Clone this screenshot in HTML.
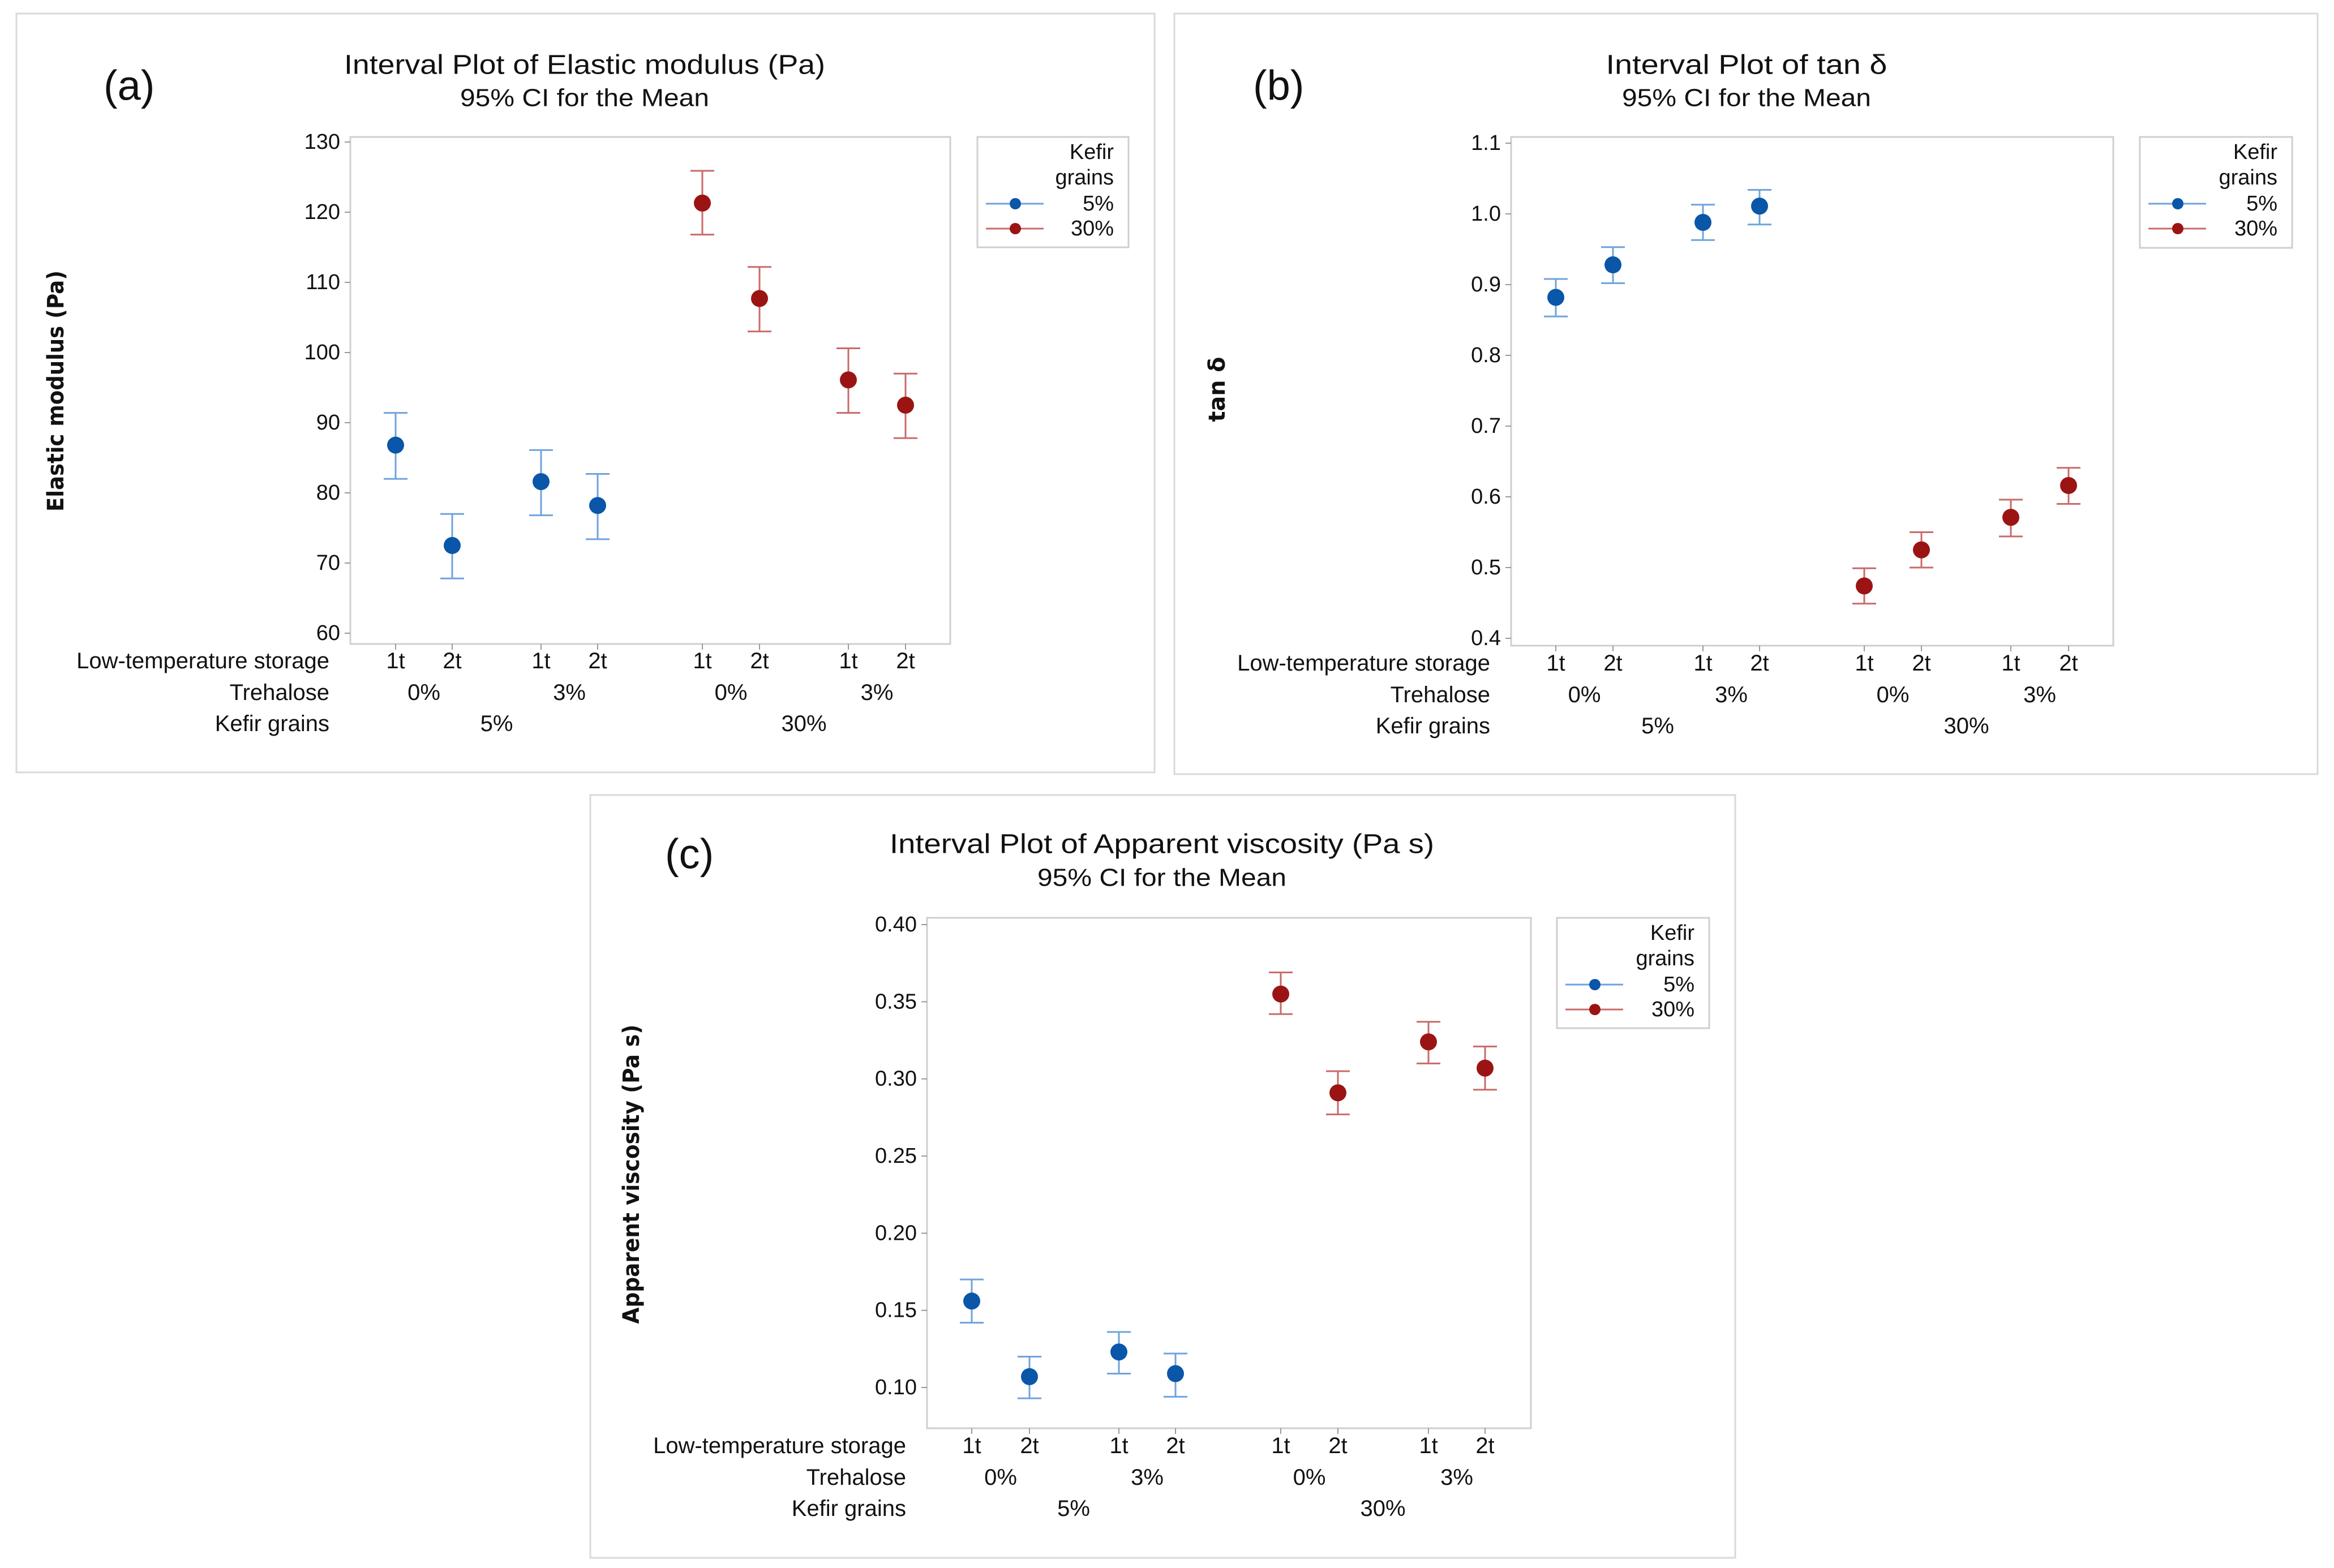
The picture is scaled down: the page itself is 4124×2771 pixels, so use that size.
<!DOCTYPE html>
<html><head><meta charset="utf-8"><style>
html,body{margin:0;padding:0;background:#fff}
svg{display:block}
text{font-family:"Liberation Sans",sans-serif;fill:#111}
</style></head><body>
<svg id="fig" width="4124" height="2771" viewBox="0 0 4124 2771" xmlns="http://www.w3.org/2000/svg"></svg>
<script>
// ---- data ----
const storageLabels = ["1t","2t","1t","2t","1t","2t","1t","2t"];
const trehaloseLabels = ["0%","3%","0%","3%"];
const kefirLabels = ["5%","30%"];
const seriesNames = ["5%","30%"];
// Panel a: Elastic modulus (Pa)
const aMean5 = [86.8, 72.5, 81.6, 78.2];
const aLo5   = [82.0, 67.8, 76.8, 73.4];
const aHi5   = [91.4, 77.0, 86.1, 82.7];
const aMean30 = [121.3, 107.7, 96.1, 92.5];
const aLo30   = [116.8, 103.0, 91.4, 87.8];
const aHi30   = [125.9, 112.2, 100.6, 97.0];
const aTicks = [60,70,80,90,100,110,120,130];
// Panel b: tan delta
const bMean5 = [0.882, 0.928, 0.988, 1.011];
const bLo5   = [0.855, 0.902, 0.963, 0.985];
const bHi5   = [0.908, 0.953, 1.013, 1.034];
const bMean30 = [0.474, 0.525, 0.571, 0.616];
const bLo30   = [0.449, 0.500, 0.544, 0.590];
const bHi30   = [0.499, 0.550, 0.596, 0.641];
const bTicks = [0.4,0.5,0.6,0.7,0.8,0.9,1.0,1.1];
const bTickLabels = ["0.4","0.5","0.6","0.7","0.8","0.9","1.0","1.1"];
// Panel c: Apparent viscosity (Pa s)
const cMean5 = [0.156, 0.107, 0.123, 0.109];
const cLo5   = [0.142, 0.093, 0.109, 0.094];
const cHi5   = [0.170, 0.120, 0.136, 0.122];
const cMean30 = [0.355, 0.291, 0.324, 0.307];
const cLo30   = [0.342, 0.277, 0.310, 0.293];
const cHi30   = [0.369, 0.305, 0.337, 0.321];
const cTicks = [0.10,0.15,0.20,0.25,0.30,0.35,0.40];
const cTickLabels = ["0.10","0.15","0.20","0.25","0.30","0.35","0.40"];

const NS="http://www.w3.org/2000/svg";
const svg=document.getElementById('fig');
function mk(tag,attrs,parent,txt){const e=document.createElementNS(NS,tag);for(const k in attrs)e.setAttribute(k,attrs[k]);if(txt!==undefined)e.textContent=txt;(parent||svg).appendChild(e);return e;}

function panel(cfg){
  const g=mk('g',{});
  
  
  const fr=mk('rect',{x:cfg.border[0],y:cfg.border[1],width:cfg.border[2]-cfg.border[0],height:cfg.border[3]-cfg.border[1],fill:'#fff',stroke:'#d9d9d9','stroke-width':3},g);
  
  
  const lt=mk('text',{x:cfg.letter[0],y:cfg.letter[1],'font-size':74,'dominant-baseline':'central'},g,cfg.letterText);
  
  
  const t1=mk('text',{x:cfg.titleX,y:cfg.titleY,'font-size':48,'text-anchor':'middle','dominant-baseline':'central',textLength:cfg.titleLen,lengthAdjust:'spacingAndGlyphs'},g,cfg.title);
  
  
  const t2=mk('text',{x:cfg.titleX,y:cfg.subY,'font-size':44,'text-anchor':'middle','dominant-baseline':'central',textLength:440,lengthAdjust:'spacingAndGlyphs'},g,'95% CI for the Mean');
  
  
  const [px0,py0,px1,py1]=cfg.plot;
  const pr=mk('rect',{x:px0,y:py0,width:px1-px0,height:py1-py0,fill:'#fff',stroke:'#cfcfcf','stroke-width':3},g);
  
  
  const Y=v=>cfg.yPix0+(v-cfg.yVal0)*(cfg.yPix1-cfg.yPix0)/(cfg.yVal1-cfg.yVal0);
  const X=i=>cfg.xPix0+ (cfg.xOff[i]) ;
  cfg.ticks.forEach((v,i)=>{
    const tk=mk('line',{x1:px0-10,x2:px0,y1:Y(v),y2:Y(v),stroke:'#999','stroke-width':2},g);
    
    
    const tl=mk('text',{x:px0-18,y:Y(v),'font-size':38,'text-anchor':'end','dominant-baseline':'central'},g,cfg.tickLabels[i]);
    
    
  });
  const yt=mk('text',{x:cfg.yTitle[0],y:cfg.yTitle[1],'font-size':40,'font-weight':'bold','text-anchor':'middle','dominant-baseline':'central',transform:`rotate(-90 ${cfg.yTitle[0]} ${cfg.yTitle[1]})`,textLength:cfg.yTitleLen,lengthAdjust:'spacingAndGlyphs',style:'font-family:"DejaVu Sans",sans-serif'},g,cfg.yTitleText);
  
  
  // x ticks & labels
  const xs=[];for(let i=0;i<8;i++)xs.push(X(i));
  storageLabels.forEach((s,i)=>{
    const tk=mk('line',{x1:xs[i],x2:xs[i],y1:py1,y2:py1+10,stroke:'#999','stroke-width':2},g);
    
    
    const tl=mk('text',{x:xs[i],y:cfg.rows[0],'font-size':40,'text-anchor':'middle','dominant-baseline':'central'},g,s);
    
    
  });
  trehaloseLabels.forEach((s,i)=>{
    const tl=mk('text',{x:(xs[2*i]+xs[2*i+1])/2,y:cfg.rows[1],'font-size':40,'text-anchor':'middle','dominant-baseline':'central'},g,s);
    
    
  });
  kefirLabels.forEach((s,i)=>{
    const tl=mk('text',{x:(xs[4*i]+xs[4*i+3])/2,y:cfg.rows[2],'font-size':40,'text-anchor':'middle','dominant-baseline':'central'},g,s);
    
    
  });
  ["Low-temperature storage","Trehalose","Kefir grains"].forEach((s,i)=>{
    const tl=mk('text',{x:cfg.rowRight,y:cfg.rows[i],'font-size':40,'text-anchor':'end','dominant-baseline':'central'},g,s);
    
    
  });
  // series
  const series=[[cfg.m5,cfg.l5,cfg.h5,'#6fa3dc','#0a56a8',0],[cfg.m30,cfg.l30,cfg.h30,'#c96a6a','#9b1414',4]];
  series.forEach(([m,l,h,lc,dc,off])=>{
    m.forEach((v,i)=>{
      const x=xs[i+off];
      const eb=mk('g',{},g);
      
      
      mk('line',{x1:x,x2:x,y1:Y(l[i]),y2:Y(h[i]),stroke:lc,'stroke-width':3},eb);
      mk('line',{x1:x-21,x2:x+21,y1:Y(l[i]),y2:Y(l[i]),stroke:lc,'stroke-width':3},eb);
      mk('line',{x1:x-21,x2:x+21,y1:Y(h[i]),y2:Y(h[i]),stroke:lc,'stroke-width':3},eb);
      const c=mk('ellipse',{cx:x,cy:Y(v),rx:15,ry:15,fill:dc},g);
      
      
    });
  });
  // legend
  const [lx0,ly0,lx1,ly1]=cfg.legend;
  const lg=mk('g',{},g);
  
  
  mk('rect',{x:lx0,y:ly0,width:lx1-lx0,height:ly1-ly0,fill:'#fff',stroke:'#cfcfcf','stroke-width':3},lg);
  mk('text',{x:lx1-26,y:ly0+27,'font-size':38,'text-anchor':'end','dominant-baseline':'central'},lg,'Kefir');
  mk('text',{x:lx1-26,y:ly0+72,'font-size':38,'text-anchor':'end','dominant-baseline':'central'},lg,'grains');
  [['#6fa3dc','#0a56a8',118],['#c96a6a','#9b1414',162]].forEach(([lc,dc,dy],i)=>{
    const le=mk('g',{},lg);
    
    
    mk('line',{x1:lx0+15,x2:lx0+117,y1:ly0+dy,y2:ly0+dy,stroke:lc,'stroke-width':3},le);
    mk('circle',{cx:lx0+67,cy:ly0+dy,r:10,fill:dc},le);
    mk('text',{x:lx1-26,y:ly0+dy,'font-size':38,'text-anchor':'end','dominant-baseline':'central'},le,seriesNames[i]);
  });
}
const offs8=[0,100,257,357,542,643,800,901];
panel({name:'panel-a-elastic-modulus',border:[29,24,2040,1365],letter:[183,151],letterText:'(a)',
  titleX:1033,titleY:115,subY:173,titleLen:850,title:'Interval Plot of Elastic modulus (Pa)',
  plot:[619,242,1679,1138],yVal0:60,yVal1:130,yPix0:1119,yPix1:251,ticks:aTicks,tickLabels:aTicks.map(String),
  yTitle:[99,691],yTitleLen:426,yTitleText:'Elastic modulus (Pa)',
  xPix0:699,xOff:offs8,rows:[1168,1224,1279],rowRight:582,
  m5:aMean5,l5:aLo5,h5:aHi5,m30:aMean30,l30:aLo30,h30:aHi30,legend:[1727,242,1994,437]});
panel({name:'panel-b-tan-delta',border:[2075,24,4095,1368],letter:[2214,151],letterText:'(b)',
  titleX:3086,titleY:115,subY:173,titleLen:497,title:'Interval Plot of tan δ',
  plot:[2670,242,3734,1141],yVal0:0.4,yVal1:1.1,yPix0:1128,yPix1:253,ticks:bTicks,tickLabels:bTickLabels,
  yTitle:[2151,688],yTitleLen:115,yTitleText:'tan δ',
  xPix0:2749,xOff:[0,101,260,360,545,646,804,906],rows:[1172,1228,1283],rowRight:2633,
  m5:bMean5,l5:bLo5,h5:bHi5,m30:bMean30,l30:bLo30,h30:bHi30,legend:[3781,242,4050,438]});
panel({name:'panel-c-apparent-viscosity',border:[1043,1405,3066,2753],letter:[1175,1509],letterText:'(c)',
  titleX:2053,titleY:1492,subY:1551,titleLen:962,title:'Interval Plot of Apparent viscosity (Pa s)',
  plot:[1638,1622,2705,2524],yVal0:0.10,yVal1:0.40,yPix0:2452,yPix1:1634,ticks:cTicks,tickLabels:cTickLabels,
  yTitle:[1116,2075],yTitleLen:529,yTitleText:'Apparent viscosity (Pa s)',
  xPix0:1717,xOff:[0,102,260,360,546,647,807,907],rows:[2555,2611,2666],rowRight:1601,
  m5:cMean5,l5:cLo5,h5:cHi5,m30:cMean30,l30:cLo30,h30:cHi30,legend:[2751,1622,3020,1817]});
</script>
</body></html>
